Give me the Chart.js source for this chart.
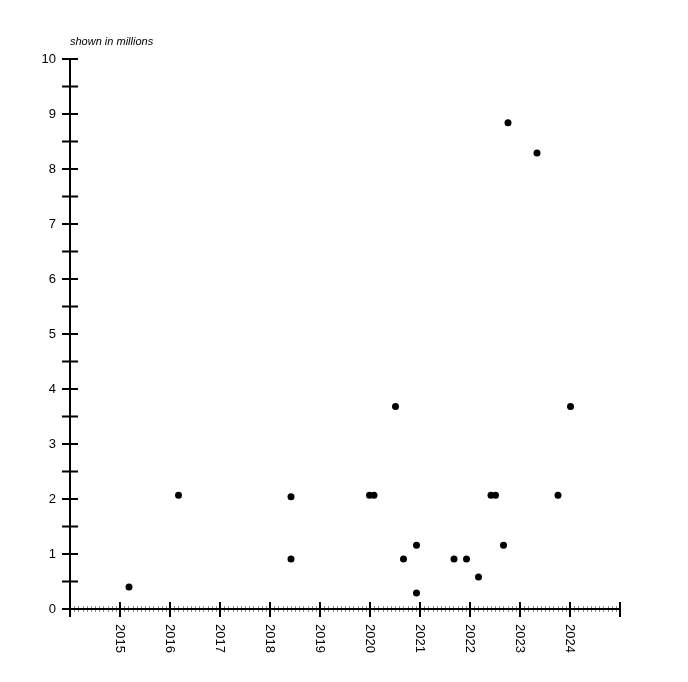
<!DOCTYPE html>
<html>
<head>
<meta charset="utf-8">
<script src="https://cdn.jsdelivr.net/npm/chart.js@4.4.0/dist/chart.umd.min.js"></script>
<style>
  html, body { margin: 0; padding: 0; background: #fff; }
  #wrap { width: 688px; height: 682px; }
</style>
</head>
<body>
<div id="wrap"><canvas id="chart"></canvas></div>
<script>
// Scatter of amounts (in millions) by date, decimal years

var DATE_YEARS = [2015.18, 2016.17, 2018.42, 2018.42, 2019.99, 2020.08, 2020.51, 2020.67,
  2020.93, 2020.93, 2021.68, 2021.93, 2022.17, 2022.42, 2022.51, 2022.67, 2022.76,
  2023.34, 2023.76, 2024.01];
var AMOUNTS = [0.40, 2.07, 2.04, 0.91, 2.07, 2.07, 3.68, 0.91,
  1.16, 0.29, 0.91, 0.91, 0.58, 2.07, 2.07, 1.16, 8.84,
  8.29, 2.07, 3.68];

var YEAR_LABELS = [2015, 2016, 2017, 2018, 2019, 2020, 2021, 2022, 2023, 2024];
var X_MIN = 2014, X_MAX = 2025;
var Y_MIN = 0, Y_MAX = 10;
var NOTE = 'shown in millions';

var FONT = '"Liberation Sans", Arial, Helvetica, sans-serif';

var axesPlugin = {
  id: 'crossAxes',
  beforeDatasetsDraw: function(chart) {
    var ctx = chart.ctx;
    var xs = chart.scales.x;
    var ys = chart.scales.y;
    var x0 = xs.getPixelForValue(X_MIN);
    var x1 = xs.getPixelForValue(X_MAX);
    var y0 = ys.getPixelForValue(Y_MIN);
    var y1 = ys.getPixelForValue(Y_MAX);
    ctx.save();

    // monthly minor ticks
    ctx.strokeStyle = '#8a8a8a';
    ctx.lineWidth = 1;
    ctx.beginPath();
    for (var m = 1; m < (X_MAX - X_MIN) * 12; m++) {
      if (m % 12 === 0) continue;
      var mx = Math.round(xs.getPixelForValue(X_MIN + m / 12)) + 0.5;
      ctx.moveTo(mx, y0 - 3);
      ctx.lineTo(mx, y0 + 3);
    }
    ctx.stroke();

    // axis lines
    ctx.strokeStyle = '#000';
    ctx.lineWidth = 2;
    ctx.beginPath();
    ctx.moveTo(x0 - 8, y0);
    ctx.lineTo(x1, y0);
    ctx.moveTo(x0, y1);
    ctx.lineTo(x0, y0 + 8);
    ctx.stroke();

    // yearly major ticks
    ctx.beginPath();
    for (var yr = X_MIN; yr <= X_MAX; yr++) {
      var px = xs.getPixelForValue(yr);
      ctx.moveTo(px, y0 - 7);
      ctx.lineTo(px, y0 + 8);
    }
    // y ticks every half unit
    for (var v = Y_MIN; v <= Y_MAX; v += 0.5) {
      var py = ys.getPixelForValue(v);
      ctx.moveTo(x0 - 8, py);
      ctx.lineTo(x0 + 8, py);
    }
    ctx.stroke();

    // rotated year labels
    ctx.fillStyle = '#000';
    ctx.font = '13px ' + FONT;
    ctx.textAlign = 'left';
    ctx.textBaseline = 'middle';
    YEAR_LABELS.forEach(function(year) {
      ctx.save();
      ctx.translate(xs.getPixelForValue(year), y0 + 15);
      ctx.rotate(Math.PI / 2);
      ctx.fillText(String(year), 0, 0);
      ctx.restore();
    });

    // note above the y axis
    ctx.font = 'italic 11px ' + FONT;
    ctx.textBaseline = 'alphabetic';
    ctx.fillText(NOTE, x0, 45);
    ctx.restore();
  }
};

var points = DATE_YEARS.map(function(d, i) { return { x: d, y: AMOUNTS[i] }; });

new Chart(document.getElementById('chart'), {
  type: 'scatter',
  data: {
    datasets: [{
      data: points,
      backgroundColor: '#000',
      borderWidth: 0,
      pointRadius: 3.5,
      pointHoverRadius: 3.5
    }]
  },
  options: {
    responsive: true,
    maintainAspectRatio: false,
    animation: false,
    events: [],
    layout: { padding: { top: 59, right: 68, left: 0, bottom: 0 } },
    plugins: {
      legend: { display: false },
      tooltip: { enabled: false }
    },
    scales: {
      x: {
        type: 'linear',
        min: X_MIN,
        max: X_MAX,
        ticks: { display: false },
        grid: { display: false, drawTicks: false },
        border: { display: false },
        afterFit: function(s) { s.height = 73; }
      },
      y: {
        type: 'linear',
        min: Y_MIN,
        max: Y_MAX,
        ticks: {
          stepSize: 1,
          color: '#000',
          padding: 14,
          font: { family: FONT, size: 13 }
        },
        grid: { display: false, drawTicks: false },
        border: { display: false },
        afterFit: function(s) { s.width = 70; }
      }
    }
  },
  plugins: [axesPlugin]
});
</script>
</body>
</html>
